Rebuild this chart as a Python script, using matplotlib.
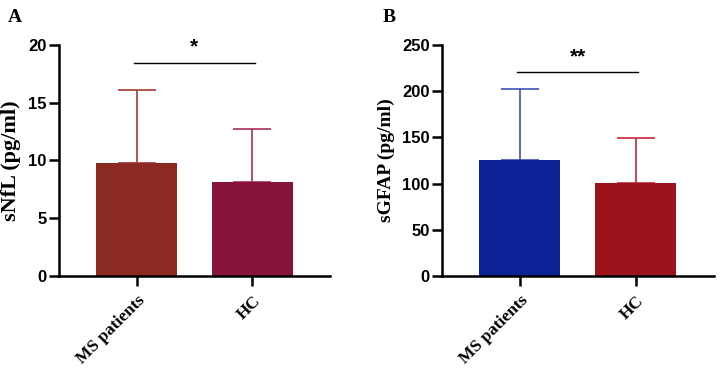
import matplotlib
matplotlib.use("Agg")
import matplotlib.pyplot as plt
from matplotlib import rcParams

rcParams["font.family"] = "Liberation Sans"

groups = ["MS patients", "HC"]

# panel A: serum NfL, mean and SD
nfl_mean = [9.76, 8.17]
nfl_sd = [6.34, 4.56]
nfl_bar_colors = ["#8B2A22", "#87133C"]
nfl_err_colors = ["#A53A30", "#A8305A"]

# panel B: serum GFAP, mean and SD
gfap_mean = [125.9, 100.6]
gfap_sd = [76.5, 48.4]
gfap_bar_colors = ["#0C2196", "#9C131B"]
gfap_err_colors = ["#4050B8", "#C8283A"]

serif = "Liberation Serif"


def draw_panel(ax, means, sds, bar_colors, err_colors, ymax, ystep, ylabel,
               ylabel_size, sig_y, sig_text, letter, letter_x):
    x = list(range(len(groups)))
    ax.bar(x, means, width=0.7, color=bar_colors, zorder=2)
    for xi, m, s, c in zip(x, means, sds, err_colors):
        ax.errorbar(xi, m, yerr=[[0], [s]], fmt="none", ecolor=c,
                    elinewidth=1.2, capsize=14, capthick=1.2, zorder=1)
    ax.set_xlim(-0.67, 1.67)
    ax.set_ylim(0, ymax)
    ax.set_yticks([i * ystep for i in range(int(ymax / ystep) + 1)])
    ax.set_xticks(x)
    ax.set_xticklabels(groups, rotation=45, ha="right", rotation_mode="anchor",
                       fontfamily=serif, fontweight="bold", fontsize=12.5)
    for lab in ax.get_yticklabels():
        lab.set_fontweight("bold")
        lab.set_fontsize(12)
    ax.set_ylabel(ylabel, fontfamily=serif, fontweight="bold",
                  fontsize=ylabel_size, labelpad=5)
    for side in ["top", "right"]:
        ax.spines[side].set_visible(False)
    for side in ["left", "bottom"]:
        ax.spines[side].set_linewidth(1.8)
    ax.tick_params(width=1.8, length=7, pad=2)
    ax.tick_params(axis="x", pad=5)

    ax.plot([-0.02, 1.02], [sig_y, sig_y], color="black", lw=1, clip_on=False)
    ax.text(0.5, sig_y + ymax * 0.025, sig_text, ha="center", va="bottom",
            fontsize=15, fontweight="bold")
    ax.text(letter_x, 1.12, letter, transform=ax.transAxes, fontfamily=serif,
            fontweight="bold", fontsize=14, va="center", ha="left")


fig = plt.figure(figsize=(7.2, 3.71), dpi=100)
ax1 = fig.add_axes([0.082, 0.256, 0.376, 0.623])
ax2 = fig.add_axes([0.614, 0.256, 0.377, 0.623])

draw_panel(ax1, nfl_mean, nfl_sd, nfl_bar_colors, nfl_err_colors,
           20, 5, "sNfL (pg/ml)", 16, 18.47, "*", "A", -0.19)
draw_panel(ax2, gfap_mean, gfap_sd, gfap_bar_colors, gfap_err_colors,
           250, 50, "sGFAP (pg/ml)", 14, 220.4, "**", "B", -0.22)

plt.savefig("out.png", dpi=100)
